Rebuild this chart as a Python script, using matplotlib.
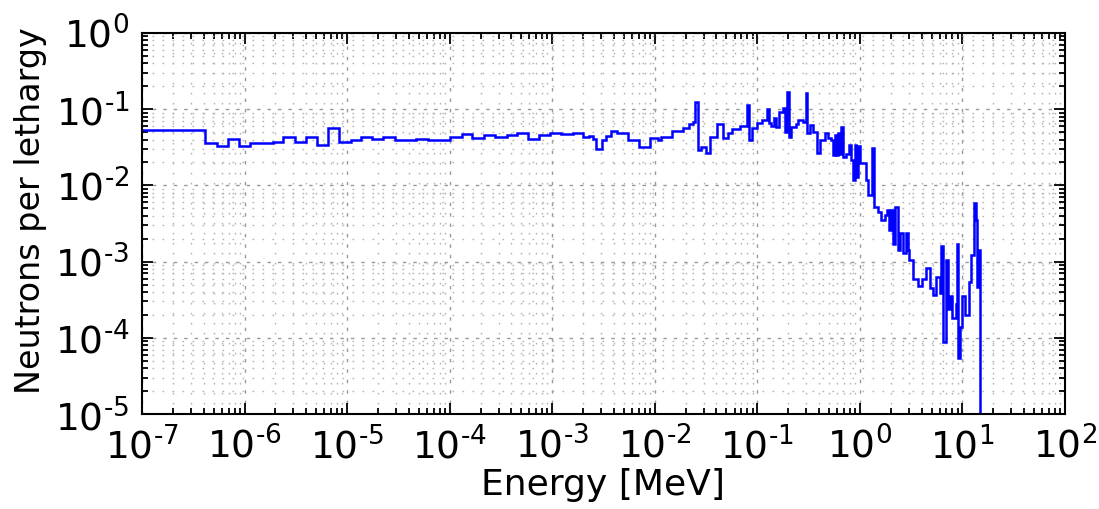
import numpy as np
import matplotlib
matplotlib.use('Agg')
import matplotlib.pyplot as plt

# group boundaries [MeV] and flux per lethargy in each group
energy_edges = [
    1.0e-7, 4.11e-7, 5.35e-7, 6.84e-7, 8.87e-7, 1.13e-6, 1.88e-6, 2.38e-6, 3.10e-6, 3.96e-6,
    5.05e-6, 6.55e-6, 8.38e-6, 1.08e-5, 1.38e-5, 1.76e-5, 2.25e-5, 2.92e-5, 4.75e-5, 6.17e-5,
    7.73e-5, 1.0e-4, 1.31e-4, 1.67e-4, 2.15e-4, 2.76e-4, 3.59e-4, 4.55e-4, 5.82e-4, 7.45e-4,
    9.6e-4, 1.23e-3, 1.58e-3, 2.0e-3, 2.29e-3, 2.51e-3, 2.70e-3, 3.04e-3, 3.38e-3, 3.77e-3,
    4.30e-3, 5.5e-3, 7.03e-3, 9.08e-3, 1.08e-2, 1.16e-2, 1.49e-2, 1.89e-2, 2.16e-2, 2.36e-2,
    2.45e-2, 2.64e-2, 2.85e-2, 3.19e-2, 3.44e-2, 4.05e-2, 4.63e-2, 5.18e-2, 5.71e-2, 6.73e-2,
    7.94e-2, 8.24e-2, 8.95e-2, 9.93e-2, 0.112, 0.123, 0.130, 0.137, 0.145, 0.151,
    0.163, 0.178, 0.185, 0.195, 0.202, 0.215, 0.240, 0.249, 0.279, 0.297,
    0.306, 0.324, 0.349, 0.382, 0.412, 0.454, 0.489, 0.527, 0.547, 0.568,
    0.587, 0.608, 0.628, 0.650, 0.680, 0.738, 0.783, 0.826, 0.857, 0.889,
    0.920, 0.953, 0.995, 1.156, 1.20, 1.32, 1.36, 1.50, 1.62, 1.75,
    1.84, 1.92, 2.03, 2.09, 2.18, 2.35, 2.48, 2.63, 2.79, 2.94,
    3.05, 3.29, 3.68, 4.06, 4.45, 4.79, 5.16, 5.57, 6.0, 6.23,
    6.48, 6.86, 7.22, 7.62, 7.96, 8.59, 8.84, 9.12, 9.39, 9.98,
    10.5, 11.6, 12.2, 12.9, 13.7, 14.0, 14.5, 15.0, 15.4,
]

flux = [
    0.054, 0.036, 0.0326, 0.041, 0.0326, 0.036, 0.0375, 0.043, 0.0375, 0.043,
    0.034, 0.0567, 0.0368, 0.0398, 0.0428, 0.0406, 0.0428, 0.0398, 0.0406, 0.0398,
    0.039, 0.043, 0.0473, 0.042, 0.046, 0.0428, 0.0454, 0.048, 0.0406, 0.046,
    0.048, 0.0473, 0.0492, 0.043, 0.044, 0.0406, 0.030, 0.0398, 0.044, 0.052,
    0.049, 0.0394, 0.032, 0.0415, 0.0394, 0.0428, 0.052, 0.0572, 0.0634, 0.0684,
    0.1255, 0.029, 0.0316, 0.0264, 0.0436, 0.0634, 0.0415, 0.0492, 0.055, 0.060,
    0.113, 0.0394, 0.056, 0.066, 0.072, 0.10, 0.066, 0.06, 0.076, 0.059,
    0.093, 0.105, 0.0508, 0.17, 0.0436, 0.059, 0.0634, 0.072, 0.067, 0.162,
    0.048, 0.062, 0.0508, 0.0264, 0.0394, 0.048, 0.0415, 0.0394, 0.025, 0.046,
    0.025, 0.048, 0.026, 0.059, 0.0237, 0.026, 0.034, 0.0216, 0.0118, 0.034,
    0.013, 0.033, 0.0195, 0.0118, 0.0075, 0.0306, 0.0052, 0.0045, 0.0035, 0.0041,
    0.0048, 0.0026, 0.0048, 0.0017, 0.0052, 0.0014, 0.0024, 0.0013, 0.0024, 0.0014,
    0.00105, 0.00059, 0.00048, 0.00059, 0.00083, 0.00045, 0.00036, 0.00063, 0.00039, 0.0016,
    0.000089, 0.00105, 0.00024, 0.00035, 0.00018, 0.00028, 0.0017, 0.000055, 0.00014, 0.00035,
    0.0002, 0.00054, 0.00122, 0.0058, 0.0035, 0.00047, 0.0014, 1e-8,
]


def log_label(val, pos):
    # old-style labels: plain hyphen in the exponent
    exp = int(round(np.log10(val)))
    return r'$10^{\text{%d}}$' % exp


def make_plot():
    plt.rcParams['font.family'] = 'DejaVu Sans'
    plt.rcParams['mathtext.fontset'] = 'dejavusans'

    fig = plt.figure(figsize=(10.99, 5.09), dpi=100)
    ax = fig.add_axes([0.1292, 0.1866, 0.8398, 0.7486])

    ax.stairs(flux, energy_edges, baseline=None, color='blue', lw=1.8)

    ax.set_xscale('log')
    ax.set_yscale('log')
    ax.set_xlim(1e-7, 1e2)
    ax.set_ylim(1e-5, 1e0)

    for axis in [ax.xaxis, ax.yaxis]:
        axis.set_major_locator(matplotlib.ticker.LogLocator(base=10, numticks=20))
        axis.set_minor_locator(matplotlib.ticker.LogLocator(base=10, subs=np.arange(2, 10), numticks=20))
        axis.set_major_formatter(matplotlib.ticker.FuncFormatter(log_label))

    ax.grid(True, which='major', color='0.6', linestyle=(0, (2.5, 5)), lw=1)
    ax.grid(True, which='minor', color='0.7', linestyle=(0, (1.2, 6)), lw=1)
    ax.set_axisbelow(True)

    ax.tick_params(which='both', direction='in', top=True, right=True, labelsize=27, width=1.3)
    ax.tick_params(which='major', length=8, pad=9)
    ax.tick_params(which='minor', length=4)
    for s in ax.spines.values():
        s.set_linewidth(1.5)

    ax.set_xlabel('Energy [MeV]', fontsize=26, labelpad=1)
    ax.set_ylabel('Neutrons per lethargy', fontsize=24)
    ax.yaxis.set_label_coords(-0.103, 0.535)

    fig.savefig('out.png', dpi=100)


if __name__ == "__main__":
    make_plot()
